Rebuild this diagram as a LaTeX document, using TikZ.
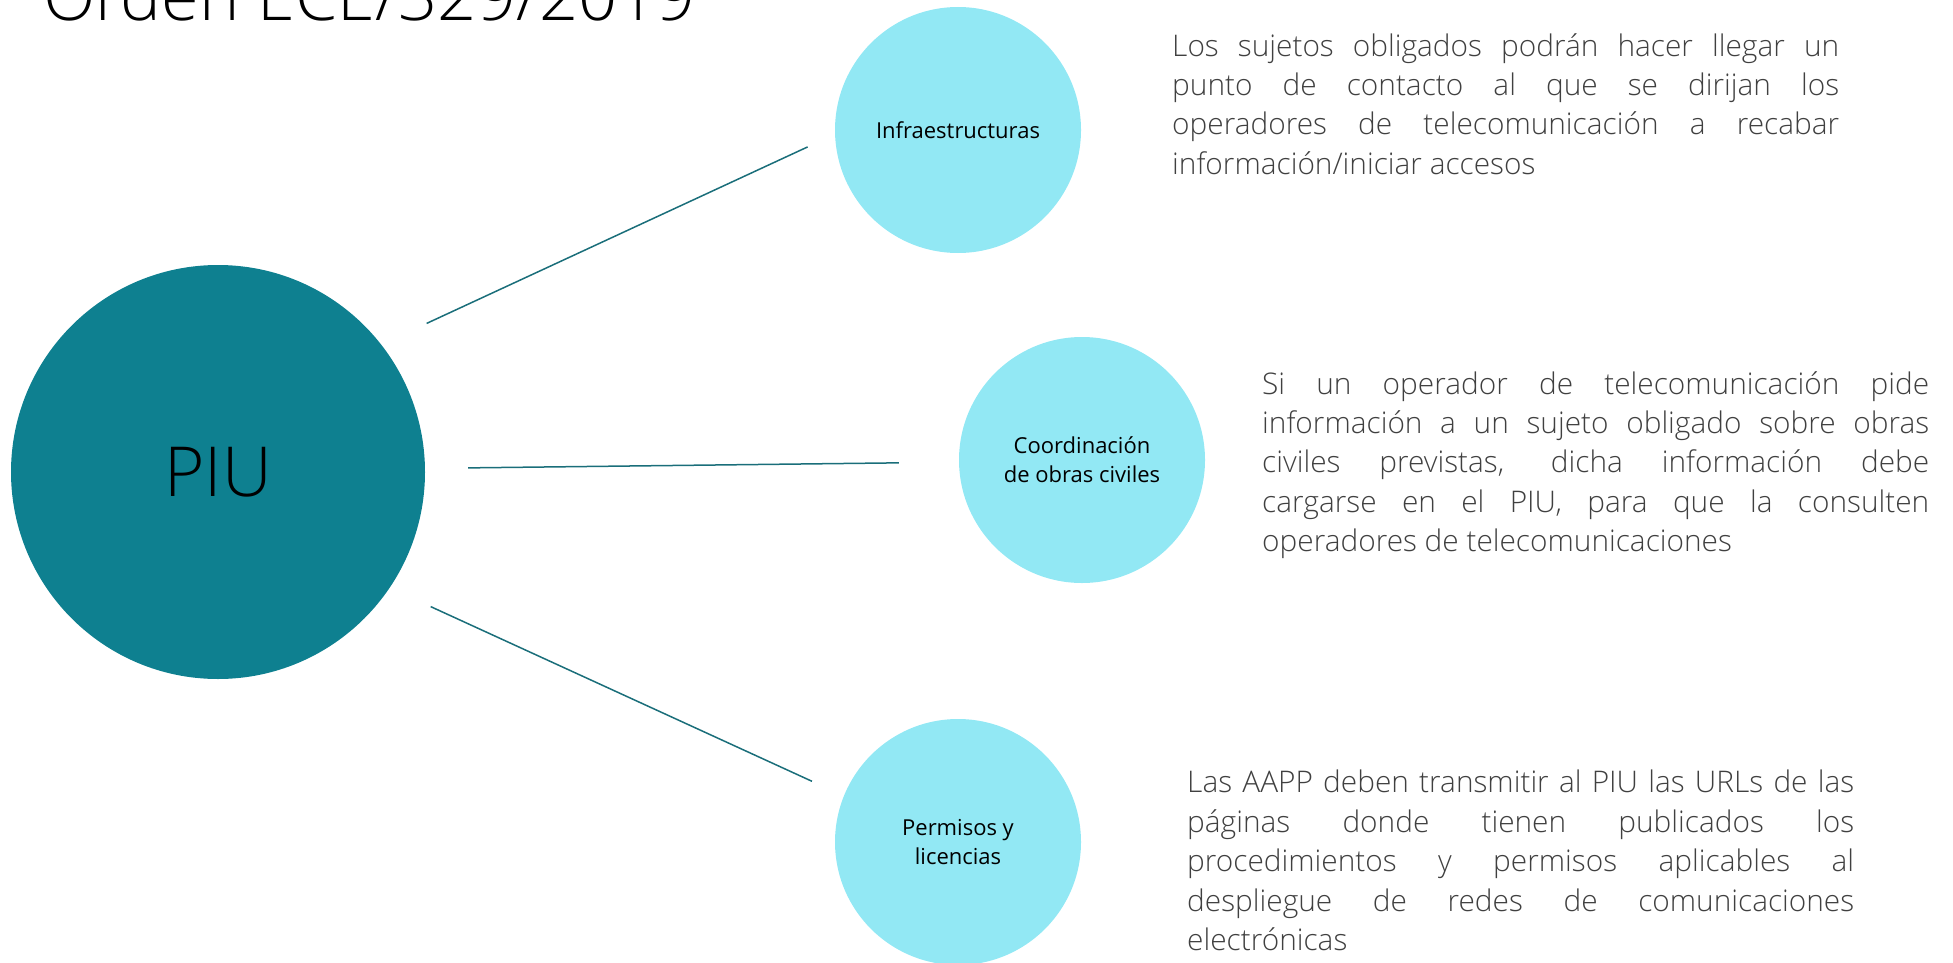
\documentclass[tikz,border=0pt]{standalone}
\usepackage{fontspec}
\setmainfont{Open Sans}
\newfontfamily\lightfont{Open Sans Light}
\usetikzlibrary{positioning}
\definecolor{piuteal}{RGB}{14,128,144}
\definecolor{topicblue}{RGB}{146,232,244}
\definecolor{linkteal}{RGB}{26,110,122}
\definecolor{notegray}{RGB}{64,64,64}
\newcommand{\notetext}[1]{\parbox{667pt}{\parindent=0pt\hyphenpenalty=10000\relax #1}}
\tikzset{hub/.style={circle, fill=piuteal, minimum size=414pt, inner sep=0pt,
    font=\lightfont\fontsize{69}{80}\selectfont}}
\tikzset{topic/.style={circle, fill=topicblue, minimum size=246pt, inner sep=0pt,
    align=center, font=\fontsize{22}{29}\selectfont}}
\tikzset{note/.style={anchor=north west, inner sep=0pt, text=notegray,
    font=\lightfont\fontsize{29.8}{39.4}\selectfont}}
\tikzset{link/.style={draw=linkteal, line width=1.5pt}}

\begin{document}
\begin{tikzpicture}[x=1pt, y=-1pt]
    \useasboundingbox (0, 0) rectangle (1953, 963);
    \node[anchor=base west, inner sep=0pt, font=\lightfont\fontsize{68.5}{80}\selectfont]
        (title) at (43, 21) {Orden ECE/329/2019};

    \node[hub] (piu) at (218, 472) {PIU};
    \node[topic] (infra) at (958, 130) {Infraestructuras};
    \node[topic] (obras) at (1082, 460) {Coordinación\\de obras civiles};
    \node[topic] (permisos) at (958, 842) {Permisos y\\licencias};

    \draw[link, shorten <=50pt, shorten >=30pt] (piu.38) -- (infra.182);
    \draw[link, shorten <=43pt, shorten >=60pt] (piu.1.7) -- (obras.181.4);
    \draw[link, shorten <=45pt, shorten >=35pt] (piu.-34.5) -- (permisos.158.3);

    \node[note] (infranote) at (1172, 33) {\notetext{Los sujetos obligados podrán hacer llegar un\linebreak
        punto de contacto al que se dirijan los\linebreak
        operadores de telecomunicación a recabar\linebreak
        información/iniciar accesos}};
    \node[note] (obrasnote) at (1262, 371) {\notetext{Si un operador de telecomunicación pide\linebreak
        información a un sujeto obligado sobre obras\linebreak
        civiles previstas, dicha información debe\linebreak
        cargarse en el PIU, para que la consulten\linebreak
        operadores de telecomunicaciones}};
    \node[note] (permisosnote) at (1187, 770) {\notetext{Las AAPP deben transmitir al PIU las URLs de las\linebreak
        páginas donde tienen publicados los\linebreak
        procedimientos y permisos aplicables al\linebreak
        despliegue de redes de comunicaciones\linebreak
        electrónicas}};

    % \draw[help lines, step=100] (0,0) grid (1953,963);
\end{tikzpicture}
\end{document}
